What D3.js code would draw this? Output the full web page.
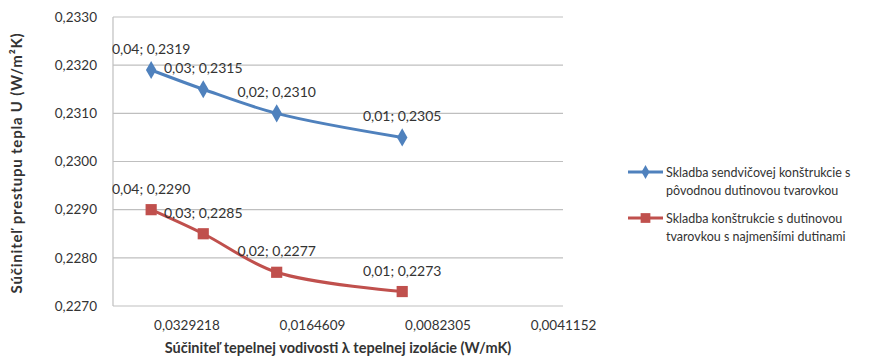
<!DOCTYPE html>
<html><head><meta charset="utf-8">
<script src="https://cdn.jsdelivr.net/npm/d3@7"></script>
<style>body{margin:0;background:#fff}svg{display:block;font-family:Lato,"Open Sans",sans-serif}</style>
</head><body><svg id="c" width="886" height="363"></svg>
<script>
const lambdas = [0.04, 0.03, 0.02, 0.01];
const seriesNames = ["Skladba sendvičovej konštrukcie s|pôvodnou dutinovou tvarovkou",
                     "Skladba konštrukcie s dutinovou|tvarovkou s najmenšími dutinami"];
const seriesA = [0.2319, 0.2315, 0.2310, 0.2305];
const seriesB = [0.2290, 0.2285, 0.2277, 0.2273];
const xTicks = [0.0329218, 0.0164609, 0.0082305, 0.0041152];
const yTicks = [0.2270, 0.2280, 0.2290, 0.2300, 0.2310, 0.2320, 0.2330];
const colors = ["#4F81BD", "#C0504D"];

const svg = d3.select("#c");
const L = 113, R = 563, T = 17, B = 306;
const x = d3.scaleLog().base(2).domain([0.0493827, 0.0041152]).range([L, R]);
const y = d3.scaleLinear().domain([0.2270, 0.2330]).range([B, T]);
const fmt = (v, d) => v.toFixed(d).replace(".", ",");

// gridlines
svg.append("g").selectAll("line").data(yTicks).join("line")
  .attr("x1", L).attr("x2", R).attr("y1", d => y(d)).attr("y2", d => y(d))
  .attr("stroke", "#bfbfbf").attr("stroke-width", 1.2);
svg.append("line").attr("x1", L).attr("x2", L).attr("y1", T).attr("y2", B)
  .attr("stroke", "#bfbfbf").attr("stroke-width", 1.2);

// y axis labels
const yAxis = d3.axisLeft(y).tickValues(yTicks).tickFormat(d => fmt(d, 4)).tickSize(0).tickPadding(16);
svg.append("g").attr("transform", `translate(${L},0)`).call(yAxis)
  .call(g => g.select(".domain").remove())
  .selectAll("text").attr("font-size", 13.5).attr("fill", "#333").attr("font-family", "Lato");

// x axis labels
const xAxis = d3.axisBottom(x).tickValues(xTicks).tickFormat(d => fmt(d, 7)).tickSize(0).tickPadding(14);
svg.append("g").attr("transform", `translate(0,${B})`).call(xAxis)
  .call(g => g.select(".domain").remove())
  .selectAll("text").attr("font-size", 13.5).attr("fill", "#333").attr("font-family", "Lato");

// series
const line = d3.line().x(d => x(d[0])).y(d => y(d[1])).curve(d3.curveCatmullRom.alpha(0.5));
[seriesA, seriesB].forEach((vals, i) => {
  const pts = lambdas.map((l, j) => [l, vals[j]]);
  svg.append("path").attr("d", line(pts)).attr("fill", "none")
    .attr("stroke", colors[i]).attr("stroke-width", 3);
  svg.append("g").selectAll("path").data(pts).join("path")
    .attr("transform", d => `translate(${x(d[0])},${y(d[1])})`)
    .attr("d", d3.symbol().type(i === 0 ? d3.symbolDiamond : d3.symbolSquare).size(i === 0 ? 95 : 125))
    .attr("fill", colors[i]);
  svg.append("g").selectAll("text").data(pts).join("text")
    .attr("x", d => x(d[0])).attr("y", d => y(d[1]) - 16)
    .attr("text-anchor", "middle").attr("font-size", 14).attr("fill", "#333")
    .text(d => fmt(d[0], 2) + "; " + fmt(d[1], 4));
});

// legend
const leg = svg.append("g");
seriesNames.forEach((name, i) => {
  const cy = 172 + i * 46;
  leg.append("line").attr("x1", 628).attr("x2", 663).attr("y1", cy).attr("y2", cy)
    .attr("stroke", colors[i]).attr("stroke-width", 3);
  leg.append("path").attr("transform", `translate(645.5,${cy})`)
    .attr("d", d3.symbol().type(i === 0 ? d3.symbolDiamond : d3.symbolSquare).size(i === 0 ? 55 : 95))
    .attr("fill", colors[i]);
  name.split("|").forEach((t, k) => {
    leg.append("text").attr("x", 666).attr("y", cy + 4.5 + k * 18)
      .attr("font-size", 12.5).attr("fill", "#333").text(t);
  });
});

// axis titles
svg.append("text").attr("x", 338).attr("y", 353).attr("text-anchor", "middle")
  .attr("font-weight", "bold").attr("font-size", 14.5).attr("fill", "#333")
  .text("Súčiniteľ tepelnej vodivosti λ tepelnej izolácie (W/mK)");
svg.append("text").attr("transform", "translate(22,163) rotate(-90)").attr("text-anchor", "middle")
  .attr("font-weight", "bold").attr("font-size", 15).attr("letter-spacing", 0.8).attr("fill", "#333")
  .text("Súčiniteľ prestupu tepla U (W/m²K)");
</script></body></html>
